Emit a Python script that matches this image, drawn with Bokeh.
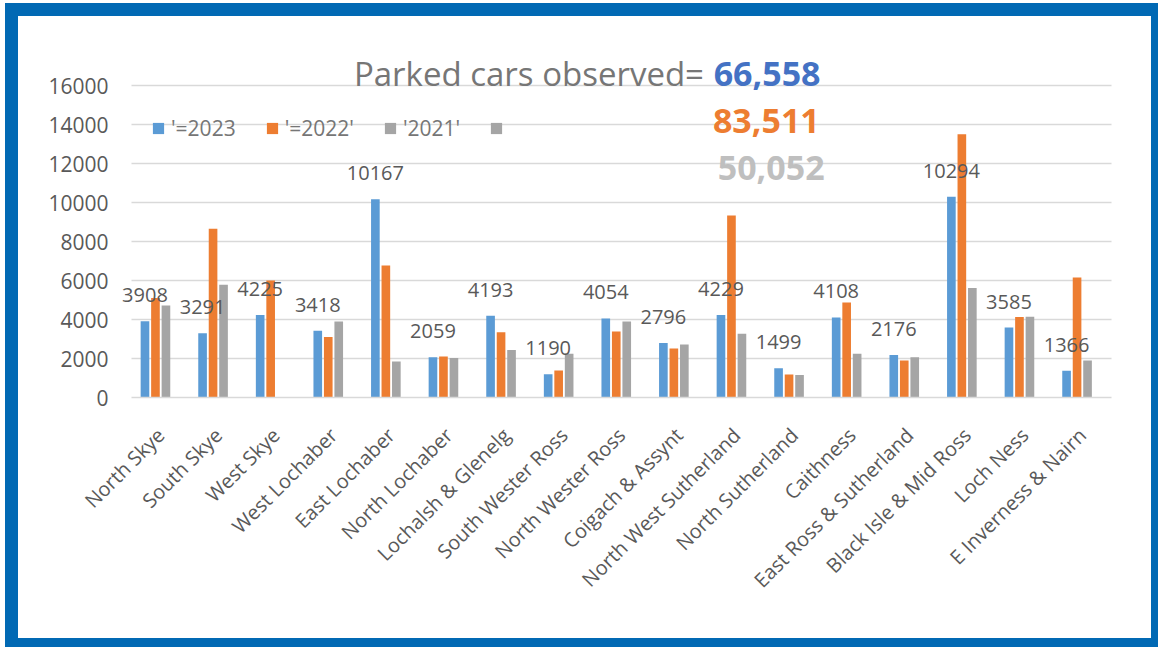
import math
from bokeh.plotting import figure
from bokeh.models import (ColumnDataSource, Legend, LegendItem, Label, LabelSet, FactorRange,
                          Range1d, FixedTicker)
from bokeh.transform import dodge
from bokeh.embed import file_html
from bokeh.resources import INLINE
from bokeh.core.properties import value

regions = ["North Skye", "South Skye", "West Skye", "West Lochaber", "East Lochaber",
           "North Lochaber", "Lochalsh & Glenelg", "South Wester Ross", "North Wester Ross",
           "Coigach & Assynt", "North West Sutherland", "North Sutherland", "Caithness",
           "East Ross & Sutherland", "Black Isle & Mid Ross", "Loch Ness", "E Inverness & Nairn"]
v2023 = [3908, 3291, 4225, 3418, 10167, 2059, 4193, 1190, 4054, 2796, 4229, 1499, 4108,
         2176, 10294, 3585, 1366]
v2022 = [5100, 8650, 6000, 3100, 6770, 2100, 3350, 1390, 3390, 2510, 9330, 1180, 4870,
         1900, 13500, 4130, 6150]
v2021 = [4720, 5780, 0, 3900, 1850, 2020, 2440, 2240, 3900, 2720, 3270, 1160, 2240,
         2070, 5620, 4140, 1900]
series_labels = ["'=2023", "'=2022'", "'2021'", " "]
y_ticks = [0, 2000, 4000, 6000, 8000, 10000, 12000, 14000, 16000]
totals = ["66,558", "83,511", "50,052"]
title_text = "Parked cars observed="

FONT = "Open Sans"
BLUE, ORANGE, GRAY = "#5B9BD5", "#ED7D31", "#A5A5A5"

src = ColumnDataSource(dict(region=regions, v2023=v2023, v2022=v2022, v2021=v2021,
                            lab=[str(v) for v in v2023]))

xr = FactorRange(factors=regions, range_padding=0.25, range_padding_units="absolute")

p = figure(x_range=xr, y_range=Range1d(0, 18000),
           width=1133, height=622, output_backend="svg", toolbar_location=None,
           min_border_left=99, min_border_right=46, min_border_top=30, min_border_bottom=263,
           background_fill_color="white", border_fill_color="white", outline_line_color=None,
           styles={"box-sizing": "content-box", "border-style": "solid",
                   "border-color": "#0169B4", "border-width": "13px 7px 9px 13px",
                   "margin-left": "5px", "margin-top": "3px"})

r1 = p.vbar(x=dodge('region', -0.273, range=p.x_range), top='v2023', width=0.15,
            source=src, fill_color=BLUE, line_color=None)
r2 = p.vbar(x=dodge('region', -0.091, range=p.x_range), top='v2022', width=0.15,
            source=src, fill_color=ORANGE, line_color=None)
r3 = p.vbar(x=dodge('region', 0.091, range=p.x_range), top='v2021', width=0.15,
            source=src, fill_color=GRAY, line_color=None)

p.add_layout(LabelSet(x=dodge('region', -0.273, range=p.x_range), y='v2023', text='lab',
                      source=src, text_align='center', text_baseline='alphabetic',
                      y_offset=19, text_font=value(FONT), text_font_size="20px",
                      text_color="#595959"))

# axes
p.xgrid.grid_line_color = None
p.ygrid.grid_line_color = "#D9D9D9"
p.ygrid.grid_line_width = 1.5
if hasattr(p.ygrid[0], "cross_bounds"):
    p.ygrid.cross_bounds = (0, len(regions))
p.yaxis.ticker = FixedTicker(ticks=y_ticks)
p.yaxis.axis_line_color = None
p.yaxis.major_tick_line_color = None
p.yaxis.minor_tick_line_color = None
p.yaxis.major_tick_out = 0
p.yaxis.major_tick_in = 0
p.yaxis.major_label_standoff = 9
p.yaxis.major_label_text_font = FONT
p.yaxis.major_label_text_font_size = "21px"
p.yaxis.major_label_text_color = "#595959"

p.xaxis.bounds = (0, len(regions))
p.xaxis.axis_line_color = "#D9D9D9"
p.xaxis.axis_line_width = 1.5
p.xaxis.major_tick_line_color = None
p.xaxis.minor_tick_line_color = None
p.xaxis.major_tick_out = 0
p.xaxis.major_tick_in = 0
p.xaxis.major_label_orientation = math.pi / 4
p.xaxis.major_label_standoff = 34
p.xaxis.major_label_text_font = FONT
p.xaxis.major_label_text_font_size = "20px"
p.xaxis.major_label_text_color = "#595959"

legend = Legend(items=[LegendItem(label=series_labels[0], renderers=[r1]),
                       LegendItem(label=series_labels[1], renderers=[r2]),
                       LegendItem(label=series_labels[2], renderers=[r3]),
                       LegendItem(label=series_labels[3], renderers=[r3])],
                orientation="horizontal", location=(34, 255),
                background_fill_alpha=0, border_line_color=None,
                glyph_width=14, glyph_height=14, label_standoff=6, spacing=29,
                padding=0, margin=0, label_height=20,
                label_text_font=FONT, label_text_font_size="21px",
                label_text_color="#767676")
p.add_layout(legend)

p.add_layout(Label(x=3.854, y=16615, text=title_text, text_font=FONT,
                   text_font_size="33px", text_color="#767676", text_baseline="alphabetic"))
p.add_layout(Label(x=10.10, y=16615, text=totals[0], text_font=FONT, text_font_style="bold",
                   text_font_size="34px", text_color="#4472C4", text_baseline="alphabetic"))
p.add_layout(Label(x=10.087, y=14154, text=totals[1], text_font=FONT, text_font_style="bold",
                   text_font_size="34px", text_color="#ED7D31", text_baseline="alphabetic"))
p.add_layout(Label(x=10.17, y=11744, text=totals[2], text_font=FONT, text_font_style="bold",
                   text_font_size="34px", text_color="#BFBFBF", text_baseline="alphabetic"))

open("out.html", "w").write(file_html(p, INLINE))
